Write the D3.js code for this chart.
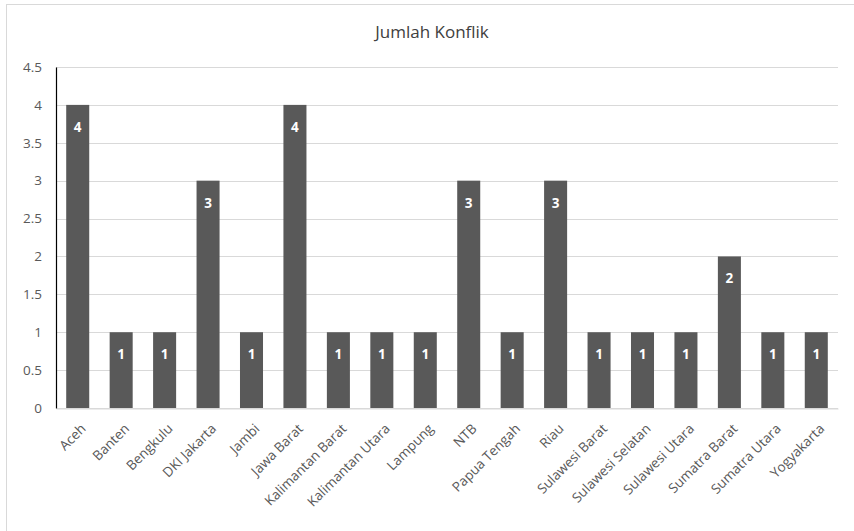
<!DOCTYPE html>
<html>
<head>
<meta charset="utf-8">
<script src="https://cdn.jsdelivr.net/npm/d3@7"></script>
<style>
  html, body { margin: 0; padding: 0; background: #fff; }
  svg { display: block; font-family: "Open Sans", "Noto Sans", sans-serif; }
</style>
</head>
<body>
<svg id="chart" width="854" height="531"></svg>
<script>
// Jumlah konflik per provinsi
const provinces = ["Aceh", "Banten", "Bengkulu", "DKI Jakarta", "Jambi", "Jawa Barat",
  "Kalimantan Barat", "Kalimantan Utara", "Lampung", "NTB", "Papua Tengah", "Riau",
  "Sulawesi Barat", "Sulawesi Selatan", "Sulawesi Utara", "Sumatra Barat",
  "Sumatra Utara", "Yogyakarta"];
const conflicts = [4, 1, 1, 3, 1, 4, 1, 1, 1, 3, 1, 3, 1, 1, 1, 2, 1, 1];
const yTicks = [0, 0.5, 1, 1.5, 2, 2.5, 3, 3.5, 4, 4.5];
const title = "Jumlah Konflik";

const svg = d3.select("#chart");
const W = 854, H = 531;
const m = { left: 56, right: 16, top: 67, bottom: 123 };

// outer frame
svg.append("rect")
  .attr("x", 6.5).attr("y", 4.5)
  .attr("width", W + 10).attr("height", H + 10)
  .attr("fill", "#fff").attr("stroke", "#d9d9d9");

const x = d3.scaleBand()
  .domain(provinces)
  .range([m.left, W - m.right])
  .paddingInner(0.47)
  .paddingOuter(0.235);

const y = d3.scaleLinear()
  .domain([0, 4.5])
  .range([H - m.bottom, m.top]);

// gridlines
svg.append("g")
  .selectAll("line")
  .data(yTicks)
  .join("line")
  .attr("x1", m.left).attr("x2", W - m.right)
  .attr("y1", d => Math.round(y(d)) + 0.5).attr("y2", d => Math.round(y(d)) + 0.5)
  .attr("stroke", "#d9d9d9").attr("stroke-width", 1);

// bars
svg.append("g")
  .selectAll("rect")
  .data(provinces.map((p, i) => ({ p, v: conflicts[i] })))
  .join("rect")
  .attr("x", d => x(d.p))
  .attr("y", d => y(d.v))
  .attr("width", x.bandwidth())
  .attr("height", d => y(0) - y(d.v))
  .attr("fill", "#595959");

// value labels inside bars
svg.append("g")
  .selectAll("text")
  .data(provinces.map((p, i) => ({ p, v: conflicts[i] })))
  .join("text")
  .attr("x", d => x(d.p) + x.bandwidth() / 2)
  .attr("y", d => y(d.v) + 27)
  .attr("text-anchor", "middle")
  .attr("fill", "#fff")
  .attr("font-size", 13.5)
  .attr("font-weight", "bold")
  .text(d => d.v);

// y axis
const yAxis = svg.append("g")
  .attr("transform", `translate(${m.left},0)`)
  .call(d3.axisLeft(y).tickValues(yTicks).tickSize(0).tickPadding(14)
    .tickFormat(d => String(d)));
yAxis.select(".domain").attr("stroke", "#000").attr("stroke-width", 1.2);
yAxis.selectAll("text").attr("fill", "#595959").attr("font-size", 13.5)
  .attr("font-family", "\"Open Sans\", sans-serif");

// x axis
const xAxis = svg.append("g")
  .attr("transform", `translate(0,${Math.round(y(0)) + 0.5})`)
  .call(d3.axisBottom(x).tickSize(0).tickPadding(8));
xAxis.select(".domain").attr("stroke", "#d9d9d9");
xAxis.selectAll("text")
  .attr("fill", "#595959").attr("font-size", 13.5)
  .attr("font-family", "\"Open Sans\", sans-serif")
  .attr("text-anchor", "end")
  .attr("dy", "0.35em")
  .attr("transform", "translate(0,12) rotate(-45)");

// title
svg.append("text")
  .attr("x", 432).attr("y", 38)
  .attr("text-anchor", "middle")
  .attr("fill", "#404040")
  .attr("font-size", 17)
  .text(title);
</script>
</body>
</html>
